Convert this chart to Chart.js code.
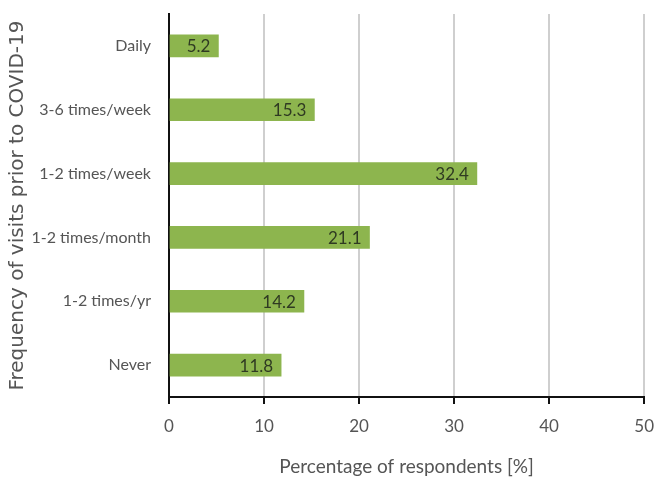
<!DOCTYPE html>
<html>
<head>
<meta charset="utf-8">
<style>
  html, body { margin: 0; padding: 0; background: #fff; }
  #wrap { width: 666px; height: 482px; }
</style>
</head>
<body>
<div id="wrap"><canvas id="freqChart"></canvas></div>

<script src="https://cdn.jsdelivr.net/npm/chart.js"></script>
<script>
  // data
  const categories = ['Daily', '3-6 times/week', '1-2 times/week', '1-2 times/month', '1-2 times/yr', 'Never'];
  const percentages = [5.2, 15.3, 32.4, 21.1, 14.2, 11.8];
  const xTicks = [0, 10, 20, 30, 40, 50];

  const labelFont = "Lato, 'Open Sans', sans-serif";

  // prints the value inside the end of each bar
  const barValues = {
      id: 'barValues',
      afterDatasetsDraw(chart) {
          const ctx = chart.ctx;
          const meta = chart.getDatasetMeta(0);
          ctx.save();
          ctx.font = '17px ' + labelFont;
          ctx.fillStyle = '#2f3a22';
          ctx.textAlign = 'right';
          ctx.textBaseline = 'middle';
          meta.data.forEach(function (bar, i) {
              ctx.fillText(percentages[i].toFixed(1), bar.x - 8, bar.y + 1);
          });
          ctx.restore();
      }
  };

  const ctx = document.getElementById('freqChart');
  const freqChart = new Chart(ctx, {
      type: 'bar',
      plugins: [barValues],
      data: {
          labels: categories,
          datasets: [{
              data: percentages,
              backgroundColor: '#8db54e',
              borderWidth: 0,
              barThickness: 22,
          }]
      },
      options: {
          indexAxis: 'y',
          responsive: true,
          maintainAspectRatio: false,
          animation: false,
          layout: {
              padding: { top: 14, right: 18, bottom: 0, left: 0 }
          },
          plugins: {
              legend: { display: false },
              tooltip: { enabled: false },
          },
          scales: {
              x: {
                  min: 0,
                  max: 50,
                  afterBuildTicks: function (scale) {
                      scale.ticks = xTicks.map(v => ({ value: v }));
                  },
                  afterFit: function (scale) { scale.height = 85; },
                  border: { color: '#111', width: 2 },
                  grid: {
                      color: '#cfcfcf',
                      lineWidth: 2,
                      tickColor: '#111',
                      tickLength: 7,
                  },
                  ticks: {
                      color: '#555',
                      padding: 12,
                      font: { family: labelFont, size: 17 },
                  },
                  title: {
                      display: true,
                      text: 'Percentage of respondents [%]',
                      color: '#555',
                      font: { family: labelFont, size: 19 },
                      padding: { top: 4 },
                  }
              },
              y: {
                  afterFit: function (scale) {
                      scale.width = 169;
                      scale.paddingTop = 0;
                      scale.paddingBottom = 0;
                  },
                  border: { color: '#111', width: 2 },
                  grid: { display: false },
                  ticks: {
                      color: '#555',
                      padding: 10,
                      font: { family: labelFont, size: 16 },
                  },
                  title: {
                      display: true,
                      text: 'Frequency of visits prior to COVID-19',
                      color: '#555',
                      font: { family: "'DejaVu Sans', sans-serif", size: 20 },
                      padding: { top: 6, bottom: 0 },
                  }
              }
          }
      }
  });
</script>
</body>
</html>
